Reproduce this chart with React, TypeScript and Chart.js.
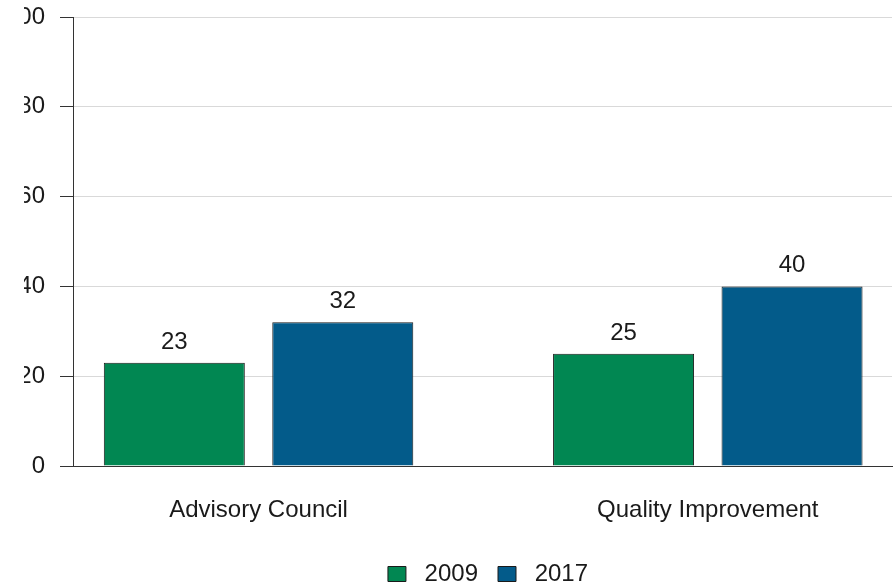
import React, { useEffect, useRef } from 'react';
import { Chart, registerables } from 'chart.js';

Chart.register(...registerables);

const categories = ['Advisory Council', 'Quality Improvement'];
const seriesNames = ['2009', '2017'];
const values2009 = [23, 25];
const values2017 = [32, 40];
const yTicks = [0, 20, 40, 60, 80, 100];

const FONT = '"Liberation Sans", Arial, Helvetica, sans-serif';
const TEXT = '#1a1a1a';
const AXIS = '#333333';
const COLORS = ['#018752', '#035b8a'];

export default function App() {
  const ref = useRef<HTMLCanvasElement>(null);

  useEffect(() => {
    document.documentElement.style.overflow = 'hidden';
    document.body.style.overflow = 'hidden';

    const valueLabels = {
      id: 'valueLabels',
      afterDatasetsDraw(chart: any) {
        const ctx = chart.ctx;
        ctx.save();
        ctx.font = `24px ${FONT}`;
        ctx.fillStyle = TEXT;
        ctx.textAlign = 'center';
        ctx.textBaseline = 'alphabetic';
        chart.data.datasets.forEach((ds: any, i: number) => {
          chart.getDatasetMeta(i).data.forEach((el: any, j: number) => {
            const v = ds.data[j].y;
            ctx.fillText(String(v), el.x, el.y - 14);
          });
        });
        ctx.restore();
      },
    };

    const font = { family: FONT, size: 24 };

    const chart = new Chart(ref.current as HTMLCanvasElement, {
      type: 'bar',
      data: {
        datasets: [
          {
            label: seriesNames[0],
            data: values2009.map((y, i) => ({ x: i, y })),
            backgroundColor: COLORS[0],
            borderColor: '#1a1a1a',
            borderWidth: 1,
            barPercentage: 0.837,
            categoryPercentage: 0.75,
          },
          {
            label: seriesNames[1],
            data: values2017.map((y, i) => ({ x: i, y })),
            backgroundColor: COLORS[1],
            borderColor: '#1a1a1a',
            borderWidth: 1,
            barPercentage: 0.837,
            categoryPercentage: 0.75,
          },
        ] as any,
      },
      options: {
        responsive: false,
        animation: false,
        layout: { padding: { left: 0, top: 17, right: 0, bottom: 0 } },
        scales: {
          x: {
            type: 'linear',
            min: -0.413,
            max: 1.41,
            offset: false,
            grid: { display: false, drawTicks: false, offset: false },
            border: { display: true, color: AXIS, width: 1 },
            afterBuildTicks: (s: any) => {
              s.ticks = categories.map((_, i) => ({ value: i }));
            },
            ticks: {
              callback: (v: any) => categories[v as number] ?? '',
              font,
              color: TEXT,
              padding: 30,
              maxRotation: 0,
              autoSkip: false,
            },
            afterFit: (s: any) => {
              s.height = 76;
            },
          } as any,
          y: {
            min: 0,
            max: 100,
            afterBuildTicks: (s: any) => {
              s.ticks = yTicks.map((v) => ({ value: v }));
            },
            grid: { color: '#d9d9d9', tickColor: AXIS, tickLength: 13 },
            border: { display: true, color: AXIS, width: 1 },
            ticks: { padding: 15, font: { ...font, lineHeight: 0.1 }, color: TEXT },
            afterFit: (s: any) => {
              s.width = 103;
            },
          } as any,
          spacer: {
            type: 'linear',
            position: 'right',
            display: true,
            grid: { display: false, drawTicks: false },
            border: { display: false },
            ticks: { display: false },
            afterFit: (s: any) => {
              s.width = 114;
            },
          } as any,
        },
        plugins: {
          legend: {
            position: 'bottom',
            labels: {
              boxWidth: 18,
              boxHeight: 15,
              padding: 20,
              font,
              color: TEXT,
              generateLabels: (c: any) =>
                Chart.defaults.plugins.legend.labels
                  .generateLabels(c)
                  .map((l: any) => ({ ...l, text: ' ' + l.text })),
            },
          },
          tooltip: { enabled: false },
        },
      },
      plugins: [valueLabels],
    });

    return () => chart.destroy();
  }, []);

  return (
    <div
      style={{
        position: 'absolute',
        left: -30,
        top: 0,
        width: 1036,
        height: 596,
        clipPath: 'inset(0px 0px 0px 54px)',
      }}
    >
      <canvas ref={ref} width={1036} height={596} style={{ display: 'block' }} />
    </div>
  );
}
